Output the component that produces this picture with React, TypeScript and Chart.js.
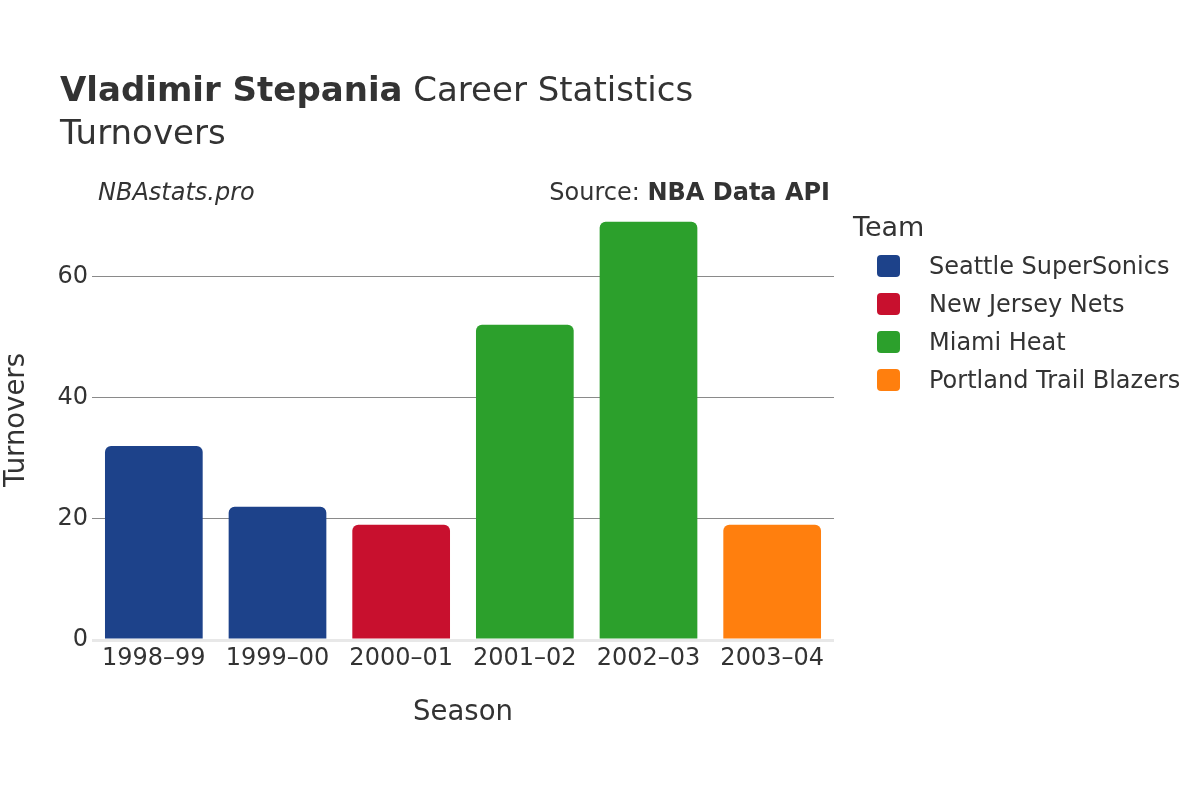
import React, { useEffect, useRef } from "react";
import { Chart, registerables } from "chart.js";

Chart.register(...registerables);

const seasons = ["1998–99", "1999–00", "2000–01", "2001–02", "2002–03", "2003–04"];
const turnovers = [32, 22, 19, 52, 69, 19];
const seasonTeams = [
  "Seattle SuperSonics",
  "Seattle SuperSonics",
  "New Jersey Nets",
  "Miami Heat",
  "Miami Heat",
  "Portland Trail Blazers",
];
const teams = ["Seattle SuperSonics", "New Jersey Nets", "Miami Heat", "Portland Trail Blazers"];
const teamColors = ["#1d428a", "#c8102e", "#2ca02c", "#ff7f0e"];
const yTicks = [0, 20, 40, 60];

const FONT = "'DejaVu Sans', sans-serif";
const TEXT = "#333333";

function roundRect(ctx: CanvasRenderingContext2D, x: number, y: number, w: number, h: number, r: number) {
  ctx.beginPath();
  ctx.moveTo(x + r, y);
  ctx.lineTo(x + w - r, y);
  ctx.quadraticCurveTo(x + w, y, x + w, y + r);
  ctx.lineTo(x + w, y + h - r);
  ctx.quadraticCurveTo(x + w, y + h, x + w - r, y + h);
  ctx.lineTo(x + r, y + h);
  ctx.quadraticCurveTo(x, y + h, x, y + h - r);
  ctx.lineTo(x, y + r);
  ctx.quadraticCurveTo(x, y, x + r, y);
  ctx.closePath();
}

const decorPlugin = {
  id: "decor",
  afterDraw(chart: any) {
    const ctx: CanvasRenderingContext2D = chart.ctx;
    ctx.save();
    ctx.fillStyle = TEXT;
    ctx.textBaseline = "alphabetic";
    ctx.textAlign = "left";
    // Title
    ctx.font = `bold 34px ${FONT}`;
    const bold = "Vladimir Stepania";
    ctx.fillText(bold, 60, 101);
    const bw = ctx.measureText(bold).width;
    ctx.font = `34px ${FONT}`;
    ctx.fillText(" Career Statistics", 60 + bw, 101);
    ctx.fillText("Turnovers", 60, 144);
    // Subtitles
    ctx.font = `italic 24px ${FONT}`;
    ctx.fillText("NBAstats.pro", 98, 200);
    ctx.textAlign = "right";
    ctx.font = `bold 24px ${FONT}`;
    const src = "NBA Data API";
    ctx.fillText(src, 830, 200);
    const sw = ctx.measureText(src).width;
    ctx.font = `24px ${FONT}`;
    ctx.fillText("Source: ", 830 - sw, 200);
    // Legend
    ctx.textAlign = "left";
    ctx.font = `27px ${FONT}`;
    ctx.fillText("Team", 853, 236);
    ctx.font = `24px ${FONT}`;
    ctx.textBaseline = "middle";
    teams.forEach((t, i) => {
      const cy = 266 + i * 38;
      ctx.fillStyle = teamColors[i];
      roundRect(ctx, 877, cy - 11, 23, 22, 4);
      ctx.fill();
      ctx.fillStyle = TEXT;
      ctx.fillText(t, 929, cy + 2);
    });
    ctx.restore();
  },
};

export default function App() {
  const ref = useRef<HTMLCanvasElement>(null);
  useEffect(() => {
    document.body.style.margin = "0";
    const canvas = ref.current;
    if (!canvas) return;
    const colors = seasonTeams.map((t) => teamColors[teams.indexOf(t)]);
    const yMax = Math.max(...turnovers) * 1.052;
    const chart = new Chart(canvas, {
      type: "bar",
      data: {
        labels: seasons,
        datasets: [
          {
            label: "Turnovers",
            data: turnovers,
            backgroundColor: colors,
            borderWidth: 0,
            borderRadius: 6,
            borderSkipped: "start",
            barPercentage: 0.79,
            categoryPercentage: 1,
          },
        ],
      },
      options: {
        responsive: false,
        animation: false,
        layout: { padding: { left: 0, top: 200, right: 366, bottom: 70 } },
        plugins: {
          legend: { display: false },
          title: { display: false },
          tooltip: { enabled: false },
        },
        scales: {
          x: {
            grid: { display: false, drawTicks: false },
            border: { display: false },
            ticks: { color: TEXT, font: { family: FONT, size: 24 }, padding: 4, maxRotation: 0 },
            title: {
              display: true,
              text: "Season",
              color: TEXT,
              font: { family: FONT, size: 27.5 },
              padding: { top: 4, bottom: 1 },
            },
            afterFit: (s: any) => {
              s.height = 90;
            },
          },
          y: {
            min: 0,
            max: yMax,
            afterBuildTicks: (s: any) => {
              s.ticks = yTicks.map((v) => ({ value: v }));
            },
            grid: {
              drawTicks: false,
              color: (c: any) => (c.tick && c.tick.value === 0 ? "#e8e8e8" : "#8a8a8a"),
              lineWidth: (c: any) => (c.tick && c.tick.value === 0 ? 3 : 1),
            },
            border: { display: false },
            ticks: { color: TEXT, font: { family: FONT, size: 24 }, padding: 4 },
            title: {
              display: true,
              text: "Turnovers",
              color: TEXT,
              font: { family: FONT, size: 27.5 },
              padding: { top: 0, bottom: 0 },
            },
            afterFit: (s: any) => {
              s.width = 92;
            },
          },
        },
      },
      plugins: [decorPlugin],
    });
    return () => chart.destroy();
  }, []);
  return <canvas ref={ref} width={1200} height={800} />;
}
